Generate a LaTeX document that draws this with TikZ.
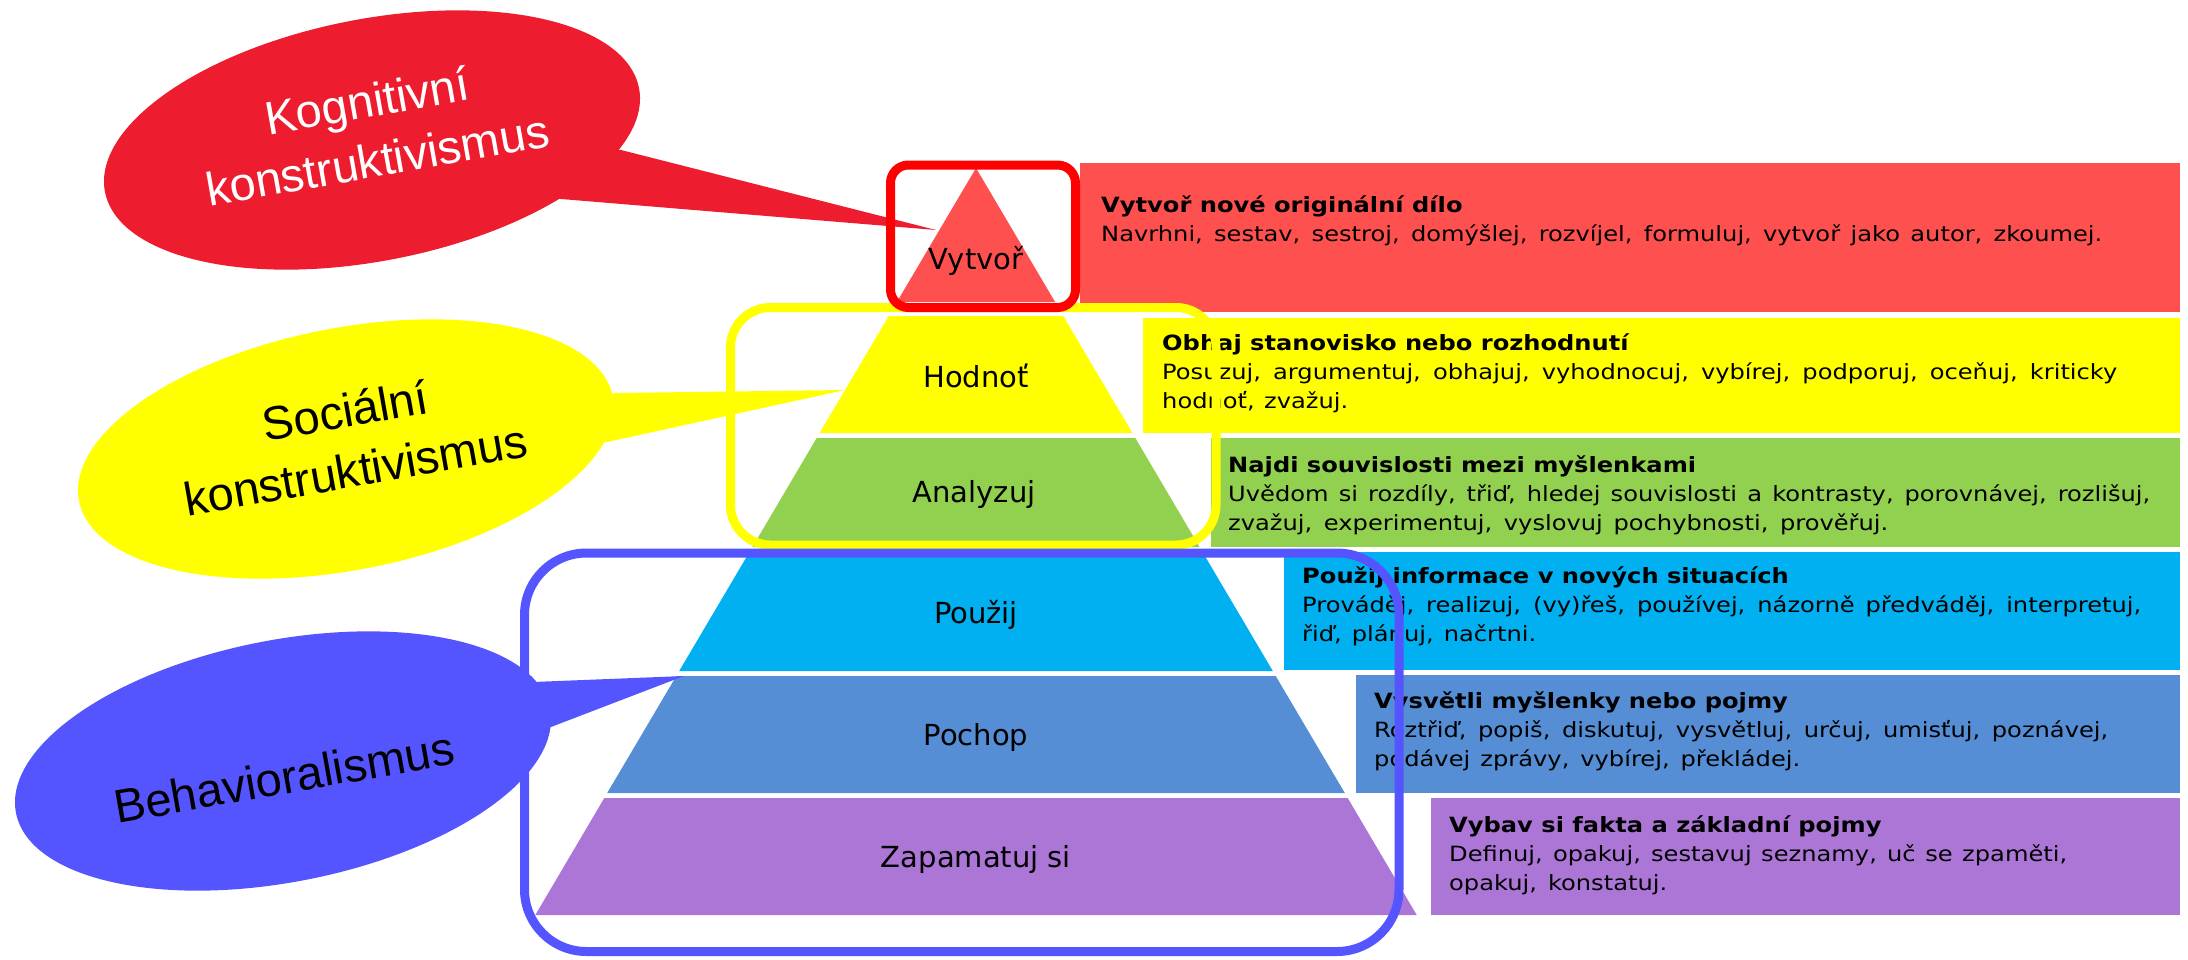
\documentclass[tikz,border=0pt]{standalone}
\usepackage{fontspec}
\setmainfont{DejaVu Sans}
\newfontfamily\boxfont[FakeStretch=1.15]{DejaVu Sans}
\newfontfamily\labfont{DejaVu Sans}
\newfontfamily\callfont{Liberation Sans}
\usetikzlibrary{shapes.geometric}
\definecolor{cKog}{HTML}{ED1C2E}
\definecolor{cVyt}{HTML}{FF5050}
\definecolor{cYel}{HTML}{FFFF00}
\definecolor{cGrn}{HTML}{92D050}
\definecolor{cCyan}{HTML}{00B0F0}
\definecolor{cPoch}{HTML}{558ED5}
\definecolor{cZap}{HTML}{AC76D6}
\definecolor{cBlu}{HTML}{5555FF}
\definecolor{cRedF}{HTML}{FF0000}
\newcommand\jline[2]{\hbox to #1pt{\spaceskip=0.33em plus 1em minus 0.1em\relax #2}}
\newcommand\bline[1]{\hbox{\bfseries #1}}
\begin{document}
\begin{tikzpicture}[x=1pt,y=-1pt,
  lab/.style={anchor=base,inner sep=0pt,font=\labfont\fontsize{29}{35}\selectfont},
  tbox/.style={rectangle,anchor=north west,inner sep=0pt,outer sep=0pt,draw=none},
  btext/.style={anchor=base west,inner sep=0pt,font=\boxfont\fontsize{21}{29}\selectfont},
  callell/.style={ellipse,minimum width=544pt,minimum height=242pt,inner sep=0pt,outer sep=0pt,rotate=11},
  calltext/.style={rotate=10,align=center,inner sep=0pt,font=\callfont\fontsize{47}{60}\selectfont},
  frame/.style={line width=9pt}]
\useasboundingbox (0,0) rectangle (2188,959);

% pyramid layers
\fill[cVyt] (976,168) -- (1055.1,302) -- (896.9,302) -- cycle;
\fill[cYel] (888.7,316) -- (1063.3,316) -- (1132.4,433) -- (819.6,433) -- cycle;
\fill[cGrn] (816.7,438) -- (1135.3,438) -- (1199.6,547) -- (752.4,547) -- cycle;
\fill[cCyan] (747.7,555) -- (1204.3,555) -- (1272.8,671) -- (679.2,671) -- cycle;
\fill[cPoch] (676.3,676) -- (1275.7,676) -- (1344.8,793) -- (607.2,793) -- cycle;
\fill[cZap] (604.3,798) -- (1347.7,798) -- (1416.7,915) -- (535.3,915) -- cycle;

\node[lab] (lVyt) at (976,269) {Vytvoř};
\node[lab] (lHod) at (976,387) {Hodnoť};
\node[lab] (lAna) at (974,502) {Analyzuj};
\node[lab] (lPou) at (976,623) {Použij};
\node[lab] (lPoc) at (976,745) {Pochop};
\node[lab] (lZap) at (976,867) {Zapamatuj si};

% text boxes
\node[tbox,fill=cVyt,minimum width=1100pt,minimum height=149pt] (bVyt) at (1080,163) {};
\node[tbox,fill=cYel,minimum width=1037pt,minimum height=115pt] (bHod) at (1143,318) {};
\node[tbox,fill=cGrn,minimum width=969pt,minimum height=109pt] (bAna) at (1211,438) {};
\node[tbox,fill=cCyan,minimum width=896pt,minimum height=118pt] (bPou) at (1284,552) {};
\node[tbox,fill=cPoch,minimum width=824pt,minimum height=118pt] (bPoc) at (1356,675) {};
\node[tbox,fill=cZap,minimum width=749pt,minimum height=117pt] (bZap) at (1431,798) {};

\node[btext] (tVyt) at (1101,212) {\vtop{\bline{Vytvoř nové originální dílo}\jline{1001}{Navrhni, sestav, sestroj, domýšlej, rozvíjel, formuluj, vytvoř jako autor, zkoumej.}}};
\node[btext] (tHod) at (1162,350) {\vtop{\bline{Obhaj stanovisko nebo rozhodnutí}\jline{955}{Posuzuj, argumentuj, obhajuj, vyhodnocuj, vybírej, podporuj, oceňuj, kriticky}\jline{186}{hodnoť, zvažuj.}}};
\node[btext] (tAna) at (1228,472) {\vtop{\bline{Najdi souvislosti mezi myšlenkami}\jline{922}{Uvědom si rozdíly, třiď, hledej souvislosti a kontrasty, porovnávej, rozlišuj,}\jline{660}{zvažuj, experimentuj, vyslovuj pochybnosti, prověřuj.}}};
\node[btext] (tPou) at (1302,583) {\vtop{\bline{Použij informace v nových situacích}\jline{839}{Prováděj, realizuj, (vy)řeš, používej, názorně předváděj, interpretuj,}\jline{234}{řiď, plánuj, načrtni.}}};
\node[btext] (tPoc) at (1374,708) {\vtop{\bline{Vysvětli myšlenky nebo pojmy}\jline{734}{Roztřiď, popiš, diskutuj, vysvětluj, určuj, umisťuj, poznávej,}\jline{426}{podávej zprávy, vybírej, překládej.}}};
\node[btext] (tZap) at (1449,832) {\vtop{\bline{Vybav si fakta a základní pojmy}\jline{618}{Definuj, opakuj, sestavuj seznamy, uč se zpaměti,}\jline{218}{opakuj, konstatuj.}}};

% callouts
\node[callell,fill=cKog] (eKog) at (372,140) {};
\coordinate (kA) at (621,150);
\coordinate (kB) at (561,199);
\coordinate (kTip) at (936,230);
\fill[cKog] (eKog.center) -- (kA) -- (kTip) -- (kB) -- cycle;
\node[calltext,text=white] (xKog) at (372,130) {Kognitivní\\konstruktivismus};

\node[callell,fill=cYel] (eSoc) at (346,449) {};
\coordinate (sA) at (616,393);
\coordinate (sB) at (607,442);
\coordinate (sTip) at (845,390);
\fill[cYel] (eSoc.center) -- (sA) -- (sTip) -- (sB) -- cycle;
\node[calltext] (xSoc) at (350,440) {Sociální\\konstruktivismus};

\node[callell,fill=cBlu] (eBeh) at (283,761) {};
\coordinate (bA) at (533,682);
\coordinate (bB) at (551,727);
\coordinate (bTip) at (684,676);
\fill[cBlu] (eBeh.center) -- (bA) -- (bTip) -- (bB) -- cycle;
\node[calltext] (xBeh) at (284,777) {Behavioralismus};

% frames
\draw[frame,cYel,rounded corners=40pt] (730.5,307.5) rectangle (1216,545);
\draw[frame,cBlu,rounded corners=62pt] (524.5,553) rectangle (1399,951.5);
\draw[frame,cRedF,rounded corners=18pt] (890.5,165) rectangle (1075.5,307.5);
\end{tikzpicture}
\end{document}
